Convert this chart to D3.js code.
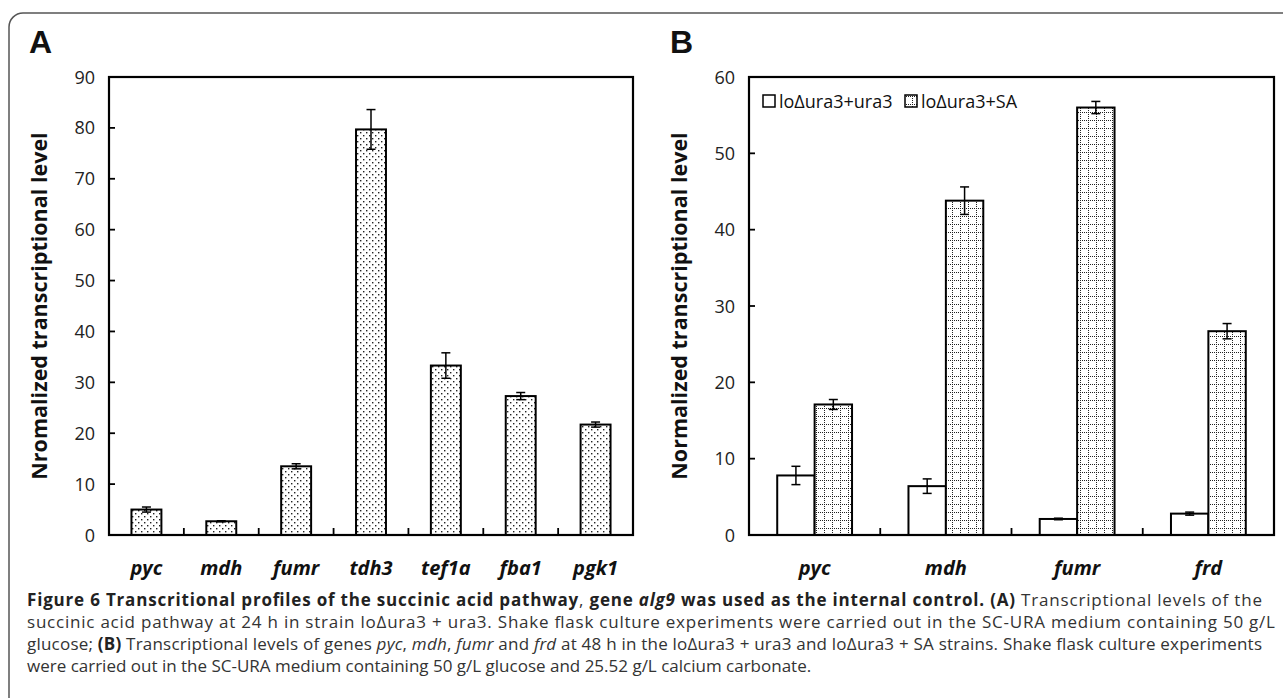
<!DOCTYPE html>
<html>
<head>
<meta charset="utf-8">
<script src="https://cdn.jsdelivr.net/npm/d3@7"></script>
<style>
  body { margin: 0; background: #fff; }
  svg { display: block; }
  .tick-label { font-family: "Open Sans", sans-serif; font-size: 18px; fill: #222; }
  .cat-label { font-family: "Open Sans", sans-serif; font-size: 20px; font-weight: bold; font-style: italic; fill: #111; }
  .axis-title { font-family: "Open Sans", sans-serif; font-size: 21.5px; font-weight: bold; fill: #111; }
  .panel-letter { font-family: "Liberation Sans", Arial, sans-serif; font-size: 32px; font-weight: bold; fill: #111; }
  .legend-text { font-family: "Open Sans", sans-serif; font-size: 18px; fill: #111; }
  .caption { font-family: "Open Sans", sans-serif; font-size: 17px; fill: #333; }
</style>
</head>
<body>
<svg id="chart" width="1283" height="698"></svg>
<script>
'use strict';

// panel A data
const genesA = ["pyc", "mdh", "fumr", "tdh3", "tef1a", "fba1", "pgk1"];
const valuesA = [5.0, 2.7, 13.5, 79.7, 33.3, 27.3, 21.7];
const errorsA = [0.5, 0.1, 0.5, 3.9, 2.5, 0.7, 0.5];
const ticksA = [0, 10, 20, 30, 40, 50, 60, 70, 80, 90];

// panel B data
const genesB = ["pyc", "mdh", "fumr", "frd"];
const seriesB = ["loΔura3+ura3", "loΔura3+SA"];
const valuesUra3 = [7.8, 6.4, 2.1, 2.8];
const errorsUra3 = [1.2, 0.95, 0.1, 0.2];
const valuesSA = [17.1, 43.8, 56.0, 26.7];
const errorsSA = [0.65, 1.8, 0.8, 1.0];
const ticksB = [0, 10, 20, 30, 40, 50, 60];

const svg = d3.select("#chart");

const defs = svg.append("defs");
// dotted fill for panel A
const dots = defs.append("pattern")
    .attr("id", "dots").attr("patternUnits", "userSpaceOnUse")
    .attr("width", 6).attr("height", 6);
dots.append("rect").attr("width", 6).attr("height", 6).attr("fill", "#fff");
dots.append("rect").attr("x", 0).attr("y", 0).attr("width", 1.4).attr("height", 1.4).attr("fill", "#222");
dots.append("rect").attr("x", 3).attr("y", 3).attr("width", 1.4).attr("height", 1.4).attr("fill", "#222");

// dotted grid fill for panel B
const grid = defs.append("pattern")
    .attr("id", "grid").attr("patternUnits", "userSpaceOnUse")
    .attr("width", 8).attr("height", 8);
grid.append("rect").attr("width", 8).attr("height", 8).attr("fill", "#fff");
for (let i = 0; i < 8; i += 2) {
    grid.append("rect").attr("x", i).attr("y", 0).attr("width", 1).attr("height", 1).attr("fill", "#222");
    grid.append("rect").attr("x", 0).attr("y", i).attr("width", 1).attr("height", 1).attr("fill", "#222");
}

// outer frame, runs off the right and bottom edges
svg.append("rect")
    .attr("x", 9).attr("y", 13)
    .attr("width", 1300).attr("height", 720)
    .attr("rx", 14)
    .attr("fill", "none").attr("stroke", "#555").attr("stroke-width", 1.5);

const plotTop = 77, plotBottom = 535;

function drawFrame(g, x0, x1, y, ticks, bandScale) {
    // y ticks inward + labels
    g.selectAll(".yt").data(ticks).enter().append("line")
        .attr("x1", x0).attr("x2", x0 + 6)
        .attr("y1", d => y(d)).attr("y2", d => y(d))
        .attr("stroke", "#000").attr("stroke-width", 1.8);
    g.selectAll(".yl").data(ticks).enter().append("text")
        .attr("class", "tick-label")
        .attr("x", x0 - 14).attr("y", d => y(d) + 6.5)
        .attr("text-anchor", "end")
        .text(d => d);
    // x ticks at band boundaries
    const bounds = bandScale.domain().slice(1).map(d => bandScale(d));
    g.selectAll(".xt").data(bounds).enter().append("line")
        .attr("x1", d => d).attr("x2", d => d)
        .attr("y1", plotBottom).attr("y2", plotBottom - 7)
        .attr("stroke", "#000").attr("stroke-width", 1.8);
    // box
    g.append("rect")
        .attr("x", x0).attr("y", plotTop)
        .attr("width", x1 - x0).attr("height", plotBottom - plotTop)
        .attr("fill", "none").attr("stroke", "#000").attr("stroke-width", 2.2);
}

function errorBar(g, cx, yv, ye, y) {
    const hi = y(yv + ye), lo = y(yv - ye);
    g.append("line").attr("x1", cx).attr("x2", cx).attr("y1", hi).attr("y2", lo)
        .attr("stroke", "#000").attr("stroke-width", 1.5);
    [hi, lo].forEach(v => {
        g.append("line").attr("x1", cx - 4.5).attr("x2", cx + 4.5).attr("y1", v).attr("y2", v)
            .attr("stroke", "#000").attr("stroke-width", 1.5);
    });
}

// ---------- panel A ----------
const ax0 = 109, ax1 = 633;
const xA = d3.scaleBand().domain(genesA).range([ax0, ax1]);
const yA = d3.scaleLinear().domain([0, 90]).range([plotBottom, plotTop]);
const gA = svg.append("g");
const bwA = xA.bandwidth() * 0.4;

gA.selectAll(".bar").data(genesA).enter().append("rect")
    .attr("x", d => xA(d) + xA.bandwidth() / 2 - bwA / 2)
    .attr("y", (d, i) => yA(valuesA[i]))
    .attr("width", bwA)
    .attr("height", (d, i) => plotBottom - yA(valuesA[i]))
    .attr("fill", "url(#dots)").attr("stroke", "#000").attr("stroke-width", 2);

genesA.forEach((d, i) => errorBar(gA, xA(d) + xA.bandwidth() / 2, valuesA[i], errorsA[i], yA));
drawFrame(gA, ax0, ax1, yA, ticksA, xA);

gA.selectAll(".cl").data(genesA).enter().append("text")
    .attr("class", "cat-label")
    .attr("x", d => xA(d) + xA.bandwidth() / 2).attr("y", 575)
    .attr("text-anchor", "middle")
    .text(d => d);

gA.append("text").attr("class", "axis-title")
    .attr("transform", `translate(47,${(plotTop + plotBottom) / 2}) rotate(-90)`)
    .attr("text-anchor", "middle")
    .text("Nromalized transcriptional level");

svg.append("text").attr("class", "panel-letter").attr("x", 29).attr("y", 53).text("A");

// ---------- panel B ----------
const bx0 = 749, bx1 = 1274;
const xB = d3.scaleBand().domain(genesB).range([bx0, bx1]);
const yB = d3.scaleLinear().domain([0, 60]).range([plotBottom, plotTop]);
const sub = d3.scaleBand().domain(seriesB).range([0, xB.bandwidth() * 0.57]);
const gB = svg.append("g");
const groupOff = xB.bandwidth() / 2 - xB.bandwidth() * 0.57 / 2;

const fills = ["#fff", "url(#grid)"];
const seriesVals = [valuesUra3, valuesSA];
const seriesErr = [errorsUra3, errorsSA];

seriesB.forEach((s, si) => {
    gB.selectAll(".bar" + si).data(genesB).enter().append("rect")
        .attr("x", d => xB(d) + groupOff + sub(s))
        .attr("y", (d, i) => yB(seriesVals[si][i]))
        .attr("width", sub.bandwidth())
        .attr("height", (d, i) => plotBottom - yB(seriesVals[si][i]))
        .attr("fill", fills[si]).attr("stroke", "#000").attr("stroke-width", 2);
});
seriesB.forEach((s, si) => {
    genesB.forEach((d, i) => errorBar(gB, xB(d) + groupOff + sub(s) + sub.bandwidth() / 2,
        seriesVals[si][i], seriesErr[si][i], yB));
});
drawFrame(gB, bx0, bx1, yB, ticksB, xB);

gB.selectAll(".cl").data(genesB).enter().append("text")
    .attr("class", "cat-label")
    .attr("x", d => xB(d) + xB.bandwidth() / 2).attr("y", 575)
    .attr("text-anchor", "middle")
    .text(d => d);

gB.append("text").attr("class", "axis-title")
    .attr("transform", `translate(687,${(plotTop + plotBottom) / 2}) rotate(-90)`)
    .attr("text-anchor", "middle")
    .text("Normalized transcriptional level");

svg.append("text").attr("class", "panel-letter").attr("x", 670).attr("y", 53).text("B");

// legend
const legX = [763, 905];
seriesB.forEach((s, si) => {
    gB.append("rect").attr("x", legX[si]).attr("y", 95).attr("width", 12).attr("height", 12)
        .attr("fill", fills[si]).attr("stroke", "#000").attr("stroke-width", 1.5);
    gB.append("text").attr("class", "legend-text")
        .attr("x", legX[si] + 16).attr("y", 107.5).text(s);
});

// ---------- caption ----------
const captionLines = [
    [["b", "Figure 6 Transcritional profiles of the succinic acid pathway"], ["", ", "],
     ["b", "gene "], ["bi", "alg9"], ["b", " was used as the internal control. (A)"],
     ["", " Transcriptional levels of the"]],
    [["", "succinic acid pathway at 24 h in strain loΔura3 + ura3. Shake flask culture experiments were carried out in the SC-URA medium containing 50 g/L"]],
    [["", "glucose; "], ["b", "(B)"], ["", " Transcriptional levels of genes "], ["i", "pyc"], ["", ", "],
     ["i", "mdh"], ["", ", "], ["i", "fumr"], ["", " and "], ["i", "frd"],
     ["", " at 48 h in the loΔura3 + ura3 and loΔura3 + SA strains. Shake flask culture experiments"]],
    [["", "were carried out in the SC-URA medium containing 50 g/L glucose and 25.52 g/L calcium carbonate."]]
];
const captionWidths = [1235, 1248, 1235, null];

captionLines.forEach((line, li) => {
    const t = svg.append("text").attr("class", "caption")
        .attr("x", 27).attr("y", 606 + li * 22);
    if (captionWidths[li]) t.attr("textLength", captionWidths[li]).attr("lengthAdjust", "spacing");
    line.forEach(([st, str]) => {
        const ts = t.append("tspan").text(str);
        if (st.includes("b")) ts.attr("font-weight", "bold").attr("fill", "#222");
        if (st.includes("i")) ts.attr("font-style", "italic");
    });
});
</script>
</body>
</html>
